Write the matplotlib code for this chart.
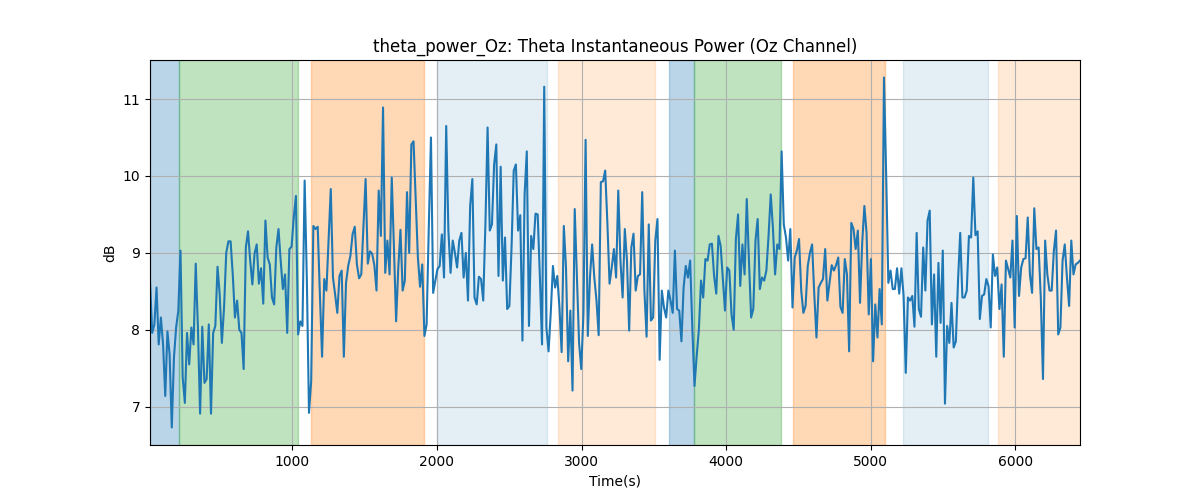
import numpy as np
import matplotlib
matplotlib.use("Agg")
import matplotlib.pyplot as plt

# theta power in dB (roughly one sample per 15 s)
power_db = [
    8.64, 7.96, 8.07, 8.55, 7.81, 8.16, 7.81, 7.14, 7.98, 7.68,
    6.73, 7.64, 8.03, 8.25, 9.03, 7.38, 7.05, 7.96, 7.55, 8.03,
    7.81, 8.86, 8.03, 6.91, 8.04, 7.31, 7.36, 8.07, 6.91, 7.96,
    8.05, 8.82, 8.46, 7.83, 8.29, 9.00, 9.15, 9.15, 8.72, 8.16,
    8.38, 8.00, 7.96, 7.49, 9.07, 9.28, 8.90, 8.59, 8.99, 9.11,
    8.60, 8.80, 8.34, 9.42,
    8.94, 8.85, 8.42, 8.33, 9.07, 9.31, 8.90, 8.53, 8.72, 7.96,
    9.05, 9.08, 9.46, 9.74, 7.94, 8.11, 8.05, 9.94, 8.68, 6.92,
    7.33, 9.35, 9.31, 9.34, 8.46, 7.65, 8.66, 8.51, 9.16, 9.83,
    8.68, 8.46, 8.22, 8.70, 8.77, 7.65, 8.61, 8.83, 8.96, 9.24,
    9.34, 8.85, 8.67, 8.72, 9.33, 9.96, 8.86, 9.02, 8.99, 8.84,
    8.51, 9.81, 9.22,
    10.89, 8.74, 9.16, 8.72, 9.98, 9.07, 8.11, 8.81, 9.30, 8.51,
    8.64, 9.79, 9.00, 10.41, 10.45, 9.68, 8.94, 8.56, 8.85, 7.92,
    8.07, 9.33, 10.50, 8.48, 8.64, 8.79, 8.83, 9.24, 8.68, 10.65,
    9.29, 8.74, 9.16, 9.00, 8.81, 9.16, 9.26, 8.68, 9.00, 8.38,
    9.61, 9.96, 8.42, 8.33, 8.69, 8.66, 8.38, 9.37, 10.63, 9.29,
    9.37, 10.15, 10.41, 8.70,
    10.12, 8.64, 9.20, 8.27, 8.31, 9.07, 10.07, 10.15, 9.29, 9.49,
    7.86, 9.76, 10.32, 8.05, 9.22, 9.05, 9.51, 9.50, 8.70, 7.81,
    11.16, 8.03, 7.72, 8.22, 8.83, 8.55, 8.70, 8.29, 7.71, 9.35,
    8.81, 7.59, 8.25, 7.21, 9.57, 8.72, 7.83, 7.49, 8.20, 10.47,
    7.92, 8.68, 9.11, 8.68, 8.38, 7.93, 9.92, 9.93, 10.07, 9.39,
    8.60, 8.81, 9.05, 8.68,
    9.81, 8.90, 8.42, 9.31, 8.90, 7.99, 9.07, 9.25, 8.51, 8.70,
    8.72, 9.79, 8.51, 7.91, 9.37, 8.12, 8.16, 9.16, 9.44, 7.61,
    8.51, 8.29, 8.16, 8.51, 8.38, 8.22, 9.03, 8.27, 8.25, 7.85,
    8.55, 8.83, 8.68, 8.90, 8.03, 7.27, 7.66, 8.00, 8.64, 8.42,
    8.92, 8.90, 9.11, 9.12, 8.70, 8.47, 9.22, 9.09, 8.68, 8.25,
    8.81, 8.77, 8.20, 8.00,
    9.18, 9.50, 8.57, 9.11, 8.72, 9.70, 8.90, 8.16, 8.27, 9.16,
    9.44, 8.53, 8.68, 8.64, 8.77, 9.22, 9.76, 9.33, 8.72, 9.11,
    9.05, 10.32, 9.37, 9.20, 8.90, 9.31, 8.29, 8.94, 9.03, 9.18,
    8.51, 8.22, 8.31, 8.83, 9.00, 9.11, 8.46, 7.90, 8.55, 8.61,
    8.66, 9.05, 8.38, 8.61, 8.84, 8.77, 8.84, 8.94, 8.30, 8.22,
    8.92, 8.72, 7.72, 9.39,
    9.31, 9.05, 9.29, 8.35, 9.13, 9.61, 9.26, 8.20, 8.92, 7.59,
    8.33, 7.90, 8.53, 8.07, 11.28, 10.02, 8.61, 8.77, 8.53, 8.53,
    8.80, 8.47, 8.80, 8.44, 7.44, 8.42, 8.38, 8.44, 8.04, 9.26,
    8.27, 8.17, 9.07, 8.51, 9.42, 9.55, 8.07, 8.72, 7.65, 8.87,
    8.09, 9.03, 7.04, 8.05, 7.83, 8.35, 7.77, 7.85, 8.64, 9.26,
    8.42, 8.42, 8.51, 9.22,
    9.20, 9.98, 9.23, 9.28, 8.14, 8.44, 8.46, 8.66, 8.57, 8.03,
    8.98, 8.70, 8.81, 8.27, 8.59, 7.65, 8.90, 8.79, 8.68, 9.16,
    8.03, 9.48, 8.44, 8.81, 8.92, 8.93, 9.46, 8.72, 8.48, 9.58,
    9.05, 9.07, 8.42, 7.36, 9.16, 8.72, 8.51, 8.51, 9.03, 9.29,
    7.94, 8.03, 8.90, 9.11, 8.68, 8.31, 9.16, 8.72, 8.85, 8.87,
    8.90,
]

t_start = 16
t_end = 6446

# task segments (start, end, colour, alpha)
seg_start = [16, 216, 1127, 1997, 2837, 3603, 3776, 4462, 5220, 5879]
seg_end = [216, 1037, 1910, 2760, 3509, 3776, 4382, 5098, 5808, 6446]
seg_color = ['tab:blue', 'tab:green', 'tab:orange', 'tab:blue', 'tab:orange',
             'tab:blue', 'tab:green', 'tab:orange', 'tab:blue', 'tab:orange']
seg_alpha = [0.3, 0.3, 0.3, 0.12, 0.16, 0.3, 0.3, 0.3, 0.12, 0.16]

times = np.linspace(t_start, t_end, len(power_db))

plt.figure(figsize=(12, 5))
for s, e, c, a in zip(seg_start, seg_end, seg_color, seg_alpha):
    plt.axvspan(s, e, color=c, alpha=a)
plt.plot(times, power_db, color='tab:blue')
plt.xlim(t_start, t_end)
plt.grid(True)
plt.title("theta_power_Oz: Theta Instantaneous Power (Oz Channel)")
plt.xlabel("Time(s)")
plt.ylabel("dB")
plt.savefig("out.png")
